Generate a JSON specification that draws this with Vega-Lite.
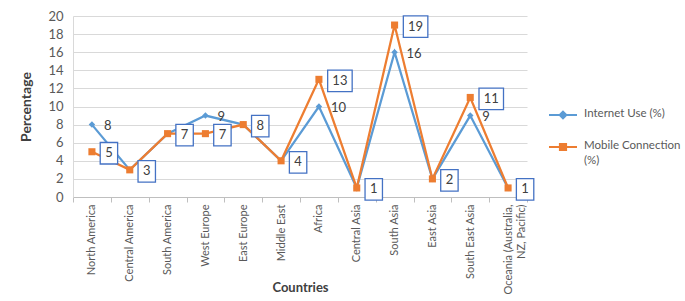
{
  "$schema": "https://vega.github.io/schema/vega-lite/v6.json",
  "width": 454,
  "height": 181,
  "autosize": {"type": "none"},
  "padding": {"left": 73, "top": 16, "right": 158, "bottom": 104},
  "background": "white",
  "config": {"view": {"stroke": null}, "font": "Lato"},
  "data": {
    "values": [
      {"country": "North America", "Internet Use (%)": 8, "Mobile Connection (%)": 5},
      {"country": "Central America", "Internet Use (%)": 3, "Mobile Connection (%)": 3},
      {"country": "South America", "Internet Use (%)": 7, "Mobile Connection (%)": 7},
      {"country": "West Europe", "Internet Use (%)": 9, "Mobile Connection (%)": 7},
      {"country": "East Europe", "Internet Use (%)": 8, "Mobile Connection (%)": 8},
      {"country": "Middle East", "Internet Use (%)": 4, "Mobile Connection (%)": 4},
      {"country": "Africa", "Internet Use (%)": 10, "Mobile Connection (%)": 13},
      {"country": "Central Asia", "Internet Use (%)": 1, "Mobile Connection (%)": 1},
      {"country": "South Asia", "Internet Use (%)": 16, "Mobile Connection (%)": 19},
      {"country": "East Asia", "Internet Use (%)": 2, "Mobile Connection (%)": 2},
      {"country": "South East Asia", "Internet Use (%)": 9, "Mobile Connection (%)": 11},
      {"country": "Oceania (Australia, NZ, Pacific)", "Internet Use (%)": 1, "Mobile Connection (%)": 1}
    ]
  },
  "encoding": {
    "x": {
      "field": "country",
      "type": "nominal",
      "sort": null,
      "bandPosition": 0.5,
      "scale": {"type": "band", "paddingInner": 0, "paddingOuter": 0},
      "axis": {
        "title": "Countries",
        "titleFont": "Lato",
        "titleFontSize": 13,
        "titleFontWeight": "bold",
        "titleColor": "#404040",
        "titleBaseline": "middle",
        "titleY": 90,
        "labelAngle": -90,
        "labelFont": "Lato",
        "labelFontSize": 11,
        "labelColor": "#595959",
        "labelPadding": 2,
        "labelExpr": "datum.value == 'Oceania (Australia, NZ, Pacific)' ? ['Oceania (Australia,', 'NZ, Pacific)'] : datum.label",
        "tickBand": "extent",
        "tickSize": 5,
        "tickColor": "#bfbfbf",
        "domainColor": "#bfbfbf",
        "grid": false
      }
    },
    "y": {
      "field": "value",
      "type": "quantitative",
      "scale": {"domain": [0, 20], "nice": false},
      "axis": {
        "title": "Percentage",
        "titleFont": "Lato",
        "titleFontSize": 14,
        "titleFontWeight": "bold",
        "titleColor": "#404040",
        "titlePadding": 14,
        "values": [0, 2, 4, 6, 8, 10, 12, 14, 16, 18, 20],
        "labelOverlap": false,
        "labelFlush": false,
        "labelFont": "Lato",
        "labelFontSize": 13,
        "labelColor": "#595959",
        "labelPadding": 10,
        "ticks": false,
        "domainColor": "#d9d9d9",
        "gridColor": "#d9d9d9",
        "grid": true
      }
    }
  },
  "layer": [
    {
      "transform": [{"fold": ["Internet Use (%)", "Mobile Connection (%)"], "as": ["series", "value"]}],
      "mark": {"type": "line", "strokeWidth": 2.25},
      "encoding": {
        "color": {
          "field": "series",
          "type": "nominal",
          "scale": {"domain": ["Internet Use (%)", "Mobile Connection (%)"], "range": ["#5B9BD5", "#ED7D31"]},
          "legend": {
            "orient": "none",
            "legendX": 475,
            "legendY": 84,
            "title": null,
            "padding": 0,
            "labelFont": "Lato",
            "labelFontSize": 11.5,
            "labelColor": "#595959",
            "labelOffset": 6,
            "rowPadding": 9,
            "symbolSize": 784,
            "symbolStrokeWidth": 2,
            "labelExpr": "datum.label == 'Mobile Connection (%)' ? ['Mobile Connection', '(%)'] : datum.label",
            "encode": {
              "symbols": {
                "update": {
                  "shape": {"signal": "datum.value == 'Internet Use (%)' ? 'M-1,0H1M0,-0.24L0.24,0L0,0.24L-0.24,0Z' : 'M-1,0H1M-0.22,-0.22H0.22V0.22H-0.22Z'"},
                  "fill": {"signal": "datum.value == 'Internet Use (%)' ? '#5B9BD5' : '#ED7D31'"},
                  "stroke": {"signal": "datum.value == 'Internet Use (%)' ? '#5B9BD5' : '#ED7D31'"}
                }
              },
              "labels": {
                "update": {
                  "lineHeight": {"value": 15},
                  "baseline": {"value": "top"},
                  "dy": {"value": -7}
                }
              }
            }
          }
        }
      }
    },
    {
      "transform": [{"fold": ["Internet Use (%)", "Mobile Connection (%)"], "as": ["series", "value"]}],
      "mark": {"type": "point", "filled": true, "opacity": 1},
      "encoding": {
        "shape": {"condition": {"test": "datum.series == 'Internet Use (%)'", "value": "diamond"}, "value": "square"},
        "size": {"condition": {"test": "datum.series == 'Internet Use (%)'", "value": 42}, "value": 50},
        "color": {"condition": {"test": "datum.series == 'Internet Use (%)'", "value": "#5B9BD5"}, "value": "#ED7D31"}
      }
    },
    {
      "transform": [
        {"fold": ["Mobile Connection (%)"], "as": ["series", "value"]}
      ],
      "mark": {"type": "point", "filled": false, "fill": "white", "fillOpacity": 1, "stroke": "#4472C4", "strokeWidth": 1.3, "opacity": 1, "size": 462, "xOffset": {"expr": "datum.value >= 10 ? 21 : 17"}, "yOffset": 1.5},
      "encoding": {
        "shape": {"condition": {"test": "datum.value >= 10", "value": "M-1.14,-1H1.14V1H-1.14Z"}, "value": "M-0.81,-1H0.81V1H-0.81Z"}
      }
    },
    {
      "transform": [
        {"fold": ["Mobile Connection (%)"], "as": ["series", "value"]}
      ],
      "mark": {"type": "text", "font": "Lato", "fontSize": 13, "color": "#404040", "align": "center", "baseline": "middle", "xOffset": {"expr": "datum.value >= 10 ? 21 : 17"}, "yOffset": 1.5},
      "encoding": {
        "text": {"field": "value", "type": "quantitative"}
      }
    },
    {
      "transform": [
        {"filter": "datum['Internet Use (%)'] != datum['Mobile Connection (%)']"},
        {"fold": ["Internet Use (%)"], "as": ["series", "value"]}
      ],
      "mark": {"type": "text", "font": "Lato", "fontSize": 13, "color": "#404040", "align": "left", "baseline": "middle", "dx": 12, "dy": 1.5},
      "encoding": {
        "text": {"field": "value", "type": "quantitative"}
      }
    }
  ]
}
